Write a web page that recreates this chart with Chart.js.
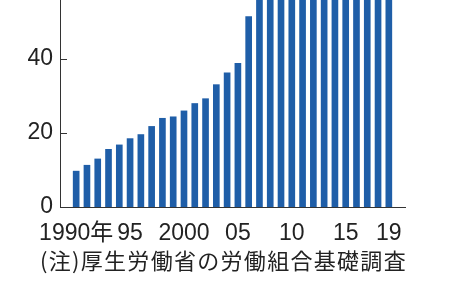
<!DOCTYPE html>
<html>
<head>
<meta charset="utf-8">
<script src="https://cdn.jsdelivr.net/npm/chart.js@4"></script>
<style>
  body{margin:0;background:#fff;}
  #wrap{position:relative;width:460px;height:287px;}
  #note{position:absolute;left:40px;top:243px;font-family:"Noto Sans CJK JP",sans-serif;font-size:22px;color:#222;white-space:nowrap;letter-spacing:1.3px;}
</style>
</head>
<body>
<div id="wrap">
  <canvas id="chart" width="460" height="287"></canvas>
  <div id="note">(注)厚生労働省の労働組合基礎調査</div>
</div>
<script>
//======================================
// Data
//======================================

const years=[1990,1991,1992,1993,1994,1995,1996,1997,1998,1999,
             2000,2001,2002,2003,2004,2005,2006,2007,2008,2009,
             2010,2011,2012,2013,2014,2015,2016,2017,2018,2019];

const members=[9.7,11.3,13.0,15.6,16.8,18.5,19.6,21.8,24.0,24.4,
               26.0,28.0,29.3,33.1,36.3,38.9,51.5,58.8,61.6,70.0,
               72.6,77.6,83.7,91.4,97.0,102.5,113.1,120.8,129.6,133.3];

const xTickYears=[1990,1995,2000,2005,2010,2015,2019];
const xTickLabels=["1990年","95","2000","05","10","15","19"];
const yTicks=[0,20,40];

const barColor="#1f5ea8";
const axisColor="#333";

//======================================
// Inner tick marks on y axis
//======================================

const innerTicks={
    id:"innerTicks",
    afterDraw(chart){
        const ctx=chart.ctx;
        const y=chart.scales.y;
        const left=chart.chartArea.left;
        ctx.save();
        ctx.strokeStyle=axisColor;
        ctx.lineWidth=1;
        yTicks.forEach(v=>{
            const py=Math.round(y.getPixelForValue(v))+0.5;
            ctx.beginPath();
            ctx.moveTo(left,py);
            ctx.lineTo(left+7,py);
            ctx.stroke();
        });
        ctx.restore();
    }
};

//======================================
// Chart
//======================================

const tickFont={family:"'Liberation Sans','Noto Sans CJK JP',sans-serif",size:23};

new Chart(document.getElementById("chart"),{
    type:"bar",
    data:{
        datasets:[{
            data:years.map((yr,i)=>({x:yr,y:members[i]})),
            backgroundColor:barColor,
            barThickness:6,
            borderWidth:0
        }]
    },
    options:{
        responsive:false,
        animation:false,
        layout:{padding:{left:0,right:55,top:0,bottom:40}},
        plugins:{legend:{display:false},tooltip:{enabled:false}},
        scales:{
            x:{
                type:"linear",
                offset:false,
                min:1988.5,
                max:2020.5,
                afterBuildTicks:s=>{s.ticks=xTickYears.map(v=>({value:v}));},
                afterFit:s=>{s.height=40;s.paddingLeft=0;s.paddingRight=0;},
                grid:{display:false,drawTicks:false},
                border:{display:true,color:axisColor,width:1},
                ticks:{
                    color:"#222",
                    font:tickFont,
                    padding:13,
                    maxRotation:0,
                    autoSkip:false,
                    callback:v=>xTickLabels[xTickYears.indexOf(v)]
                }
            },
            y:{
                min:0,
                max:56,
                afterBuildTicks:s=>{s.ticks=yTicks.map(v=>({value:v}));},
                afterFit:s=>{s.width=60;s.paddingTop=0;s.paddingBottom=0;},
                grid:{display:false,drawTicks:false},
                border:{display:true,color:axisColor,width:1},
                ticks:{color:"#222",font:tickFont,padding:7}
            }
        }
    },
    plugins:[innerTicks]
});
</script>
</body>
</html>
